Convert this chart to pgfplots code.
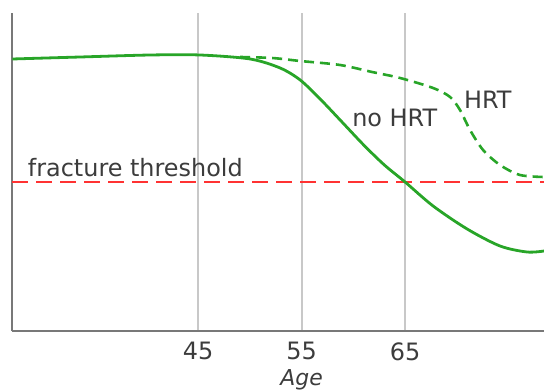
\documentclass[border=0pt]{standalone}
\usepackage{fontspec}
\setmainfont{DejaVu Sans}
\usepackage{pgfplots}
\pgfplotsset{compat=1.18}
\definecolor{cgreen}{RGB}{40,165,40}
\definecolor{cred}{RGB}{255,50,50}
\definecolor{ctext}{RGB}{60,60,60}
\definecolor{caxis}{RGB}{120,120,120}
\definecolor{cgrid}{RGB}{200,200,200}
\begin{document}
\begin{tikzpicture}
\path[use as bounding box] (-12bp,-61bp) rectangle (532bp,331bp);
\begin{axis}[
  at={(0,0)}, anchor=south west,
  scale only axis, width=532bp, height=318bp,
  xmin=27, xmax=78.43, ymin=0, ymax=318,
  axis x line=bottom, axis y line=left,
  axis line style={-, caxis, line width=1.8bp},
  xtick={45,55,65}, ytick=\empty,
  major tick length=0pt,
  xmajorgrids, grid style={cgrid, line width=1.8bp},
  tick label style={font=\fontsize{24}{28}\selectfont, text=ctext},
  xticklabel style={yshift=-8bp},
  xlabel={\itshape Age},
  xlabel style={font=\fontsize{22}{26}\selectfont, text=ctext, at={(axis cs:55,0)}, anchor=center, yshift=-49bp},
  clip=false,
  /pgf/number format/assume math mode=true,
]
\addplot[cred, line width=2.6bp, dash pattern=on 16bp off 8bp] coordinates {(27,149) (78.43,149)};
\addplot[cgreen, line width=2.6bp, dash pattern=on 10bp off 6bp, smooth] coordinates {
(49.06,274) (52.15,273) (54.86,270) (58.72,266) (61.81,259) (64.52,253) (67.71,243) (69.35,234) (70.31,221) (71.28,201) (72.54,181) (74.18,166) (76.11,156) (78.43,154)};
\addplot[cgreen, line width=2.8bp, smooth] coordinates {
(27.03,272) (33.60,274) (40.36,276) (45.19,276) (50.02,272) (52.92,263) (54.86,251) (56.79,232) (58.72,211) (61.0,186) (63.0,166) (65.00,149) (67.71,125) (71.00,102) (74.18,85) (76.79,79) (78.43,80)};
\node[anchor=base west, text=ctext, font=\fontsize{24}{28}\selectfont] at (axis cs:28.2,154) {fracture threshold};
\node[text=ctext, font=\fontsize{24}{28}\selectfont] at (axis cs:64.0,213) {no HRT};
\node[text=ctext, font=\fontsize{24}{28}\selectfont] at (axis cs:73.0,231) {HRT};
\end{axis}
\end{tikzpicture}
\end{document}
